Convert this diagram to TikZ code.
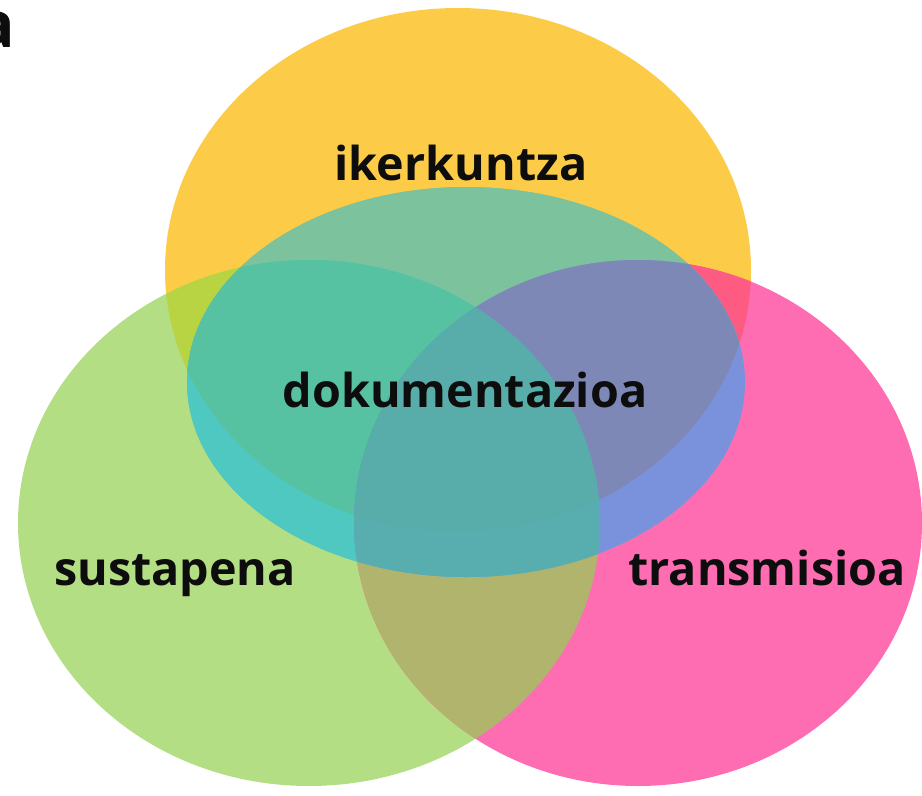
\documentclass[tikz,border=0pt]{standalone}
\usepackage{fontspec}
\setmainfont{Open Sans}
\definecolor{cY}{HTML}{FCCB47}
\definecolor{cG}{HTML}{B3DE83}
\definecolor{cP}{HTML}{FE6CB2}
\definecolor{cYG}{HTML}{B9D443}
\definecolor{cYP}{HTML}{FE5B82}
\definecolor{cGP}{HTML}{B0B46C}
\definecolor{cYGP}{HTML}{A8A060}
\definecolor{cTY}{HTML}{7CC29D}
\definecolor{cTG}{HTML}{4EC8C0}
\definecolor{cTP}{HTML}{7A92DC}
\definecolor{cTYG}{HTML}{56C2A2}
\definecolor{cTYP}{HTML}{7E88B7}
\definecolor{cTGP}{HTML}{58AEAF}
\definecolor{cTYGP}{HTML}{58ADAA}
\tikzset{lbl/.style={font=\fontsize{35}{40}\selectfont\bfseries, text=black!95, inner sep=0pt, anchor=base}}
\def\EY{(458,270) ellipse [x radius=293, y radius=262]}
\def\EG{(309,523) ellipse [x radius=291, y radius=263]}
\def\EP{(638,523) ellipse [x radius=284, y radius=263]}
\def\ET{(466,382) ellipse [x radius=279, y radius=195]}
\begin{document}
\begin{tikzpicture}[x=0.75pt,y=-0.75pt]
\useasboundingbox (0,0) rectangle (922,796);
\clip (0,0) rectangle (922,796);
\fill[white] (0,0) rectangle (922,796);
% base sets
\fill[cY] \EY;
\fill[cG] \EG;
\fill[cP] \EP;
% pairwise overlaps
\begin{scope}\clip \EY; \fill[cYG] \EG; \end{scope}
\begin{scope}\clip \EY; \fill[cYP] \EP; \end{scope}
\begin{scope}\clip \EG; \fill[cGP] \EP; \end{scope}
\begin{scope}\clip \EY; \clip \EG; \fill[cYGP] \EP; \end{scope}
% central ellipse
\begin{scope}
  \clip \ET;
  \fill[cTY] \ET;
  \fill[cTY] \EY;
  \fill[cTG] \EG;
  \fill[cTP] \EP;
  \begin{scope}\clip \EY; \fill[cTYG] \EG; \end{scope}
  \begin{scope}\clip \EY; \fill[cTYP] \EP; \end{scope}
  \begin{scope}\clip \EG; \fill[cTGP] \EP; \end{scope}
  \begin{scope}\clip \EY; \clip \EG; \fill[cTYGP] \EP; \end{scope}
\end{scope}
% labels
\node[lbl] (ik) at (461,180) {ikerkuntza};
\node[lbl] (dok) at (465,407) {dokumentazioa};
\node[lbl] (sus) at (175,585) {sustapena};
\node[lbl] (tra) at (767,585) {transmisioa};
\node[lbl, anchor=base east, font=\fontsize{48}{52}\selectfont\bfseries] (a) at (15,47) {a};
\end{tikzpicture}
\end{document}
